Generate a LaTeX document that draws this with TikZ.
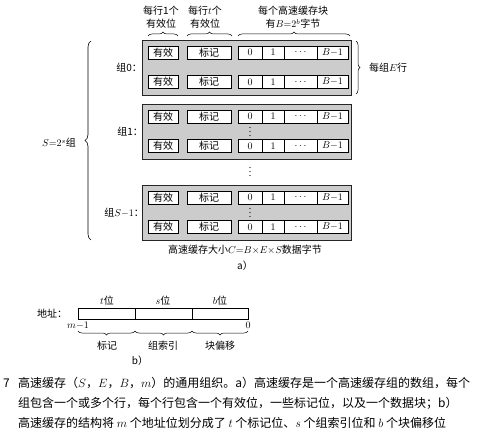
\documentclass[tikz,border=0pt]{standalone}
\usepackage{fontspec}
\setmainfont{Noto Sans CJK SC}
\usetikzlibrary{decorations.pathreplacing}
\newcommand\cacherow[2]{%
  \node[cell, minimum width=30pt] (#1v) at (163,#2) {有效};
  \node[cell, minimum width=44pt] (#1t) at (209,#2) {标记};
  \node[cell, minimum width=24pt] (#1d0) at (250,#2) {$0$};
  \node[cell, minimum width=22pt] (#1d1) at (273,#2) {$1$};
  \node[cell, minimum width=33pt] (#1dd) at (300.5,#2) {$\cdots$};
  \node[cell, minimum width=31pt] (#1db) at (332.5,#2) {$B{-}1$};
}
\newcommand\vdotsat[1]{%
  \foreach \dy in {-4,0,4} {\fill (#1) ++(0,\dy) circle (0.6pt);}%
}
\begin{document}
\begin{tikzpicture}[x=1pt,y=-1pt,
  setbox/.style={draw=black!85, line width=0.8pt, fill=black!20, minimum width=209pt, minimum height=55pt, inner sep=0pt},
  cell/.style={draw, line width=0.6pt, fill=white, minimum height=13pt, inner sep=0pt, font=\fontsize{10}{12}\selectfont},
  lbl/.style={font=\fontsize{10}{13}\selectfont, inner sep=0pt},
  captext/.style={font=\fontsize{12}{14}\selectfont, inner sep=0pt, anchor=west},
  field/.style={draw, line width=0.6pt, minimum height=11pt, inner sep=0pt},
  brc/.style={decorate, decoration={brace, amplitude=4pt}, line width=0.5pt},
  bigbrc/.style={decorate, decoration={brace, amplitude=6pt}, line width=0.6pt},
]
\useasboundingbox (0,0) rectangle (489,443);

% ---- part a: sets
\node[setbox] (set0) at (246.5,67.5) {};
\node[setbox] (set1) at (246.5,131.5) {};
\node[setbox] (setS) at (246.5,212.5) {};
\cacherow{a}{52.5}
\cacherow{b}{82}
\cacherow{c}{116.5}
\cacherow{d}{146}
\cacherow{e}{197.5}
\cacherow{f}{227}
\coordinate (dots1) at (250,131.5);
\coordinate (dotsS) at (250,212.5);
\coordinate (dotsM) at (250,171.5);
\vdotsat{dots1}
\vdotsat{dotsS}
\vdotsat{dotsM}

% set labels
\node[lbl, anchor=east] (l0) at (142,67.5) {组0：};
\node[lbl, anchor=east] (l1) at (143,131.5) {组1：};
\node[lbl, anchor=east] (lS) at (144,213) {组$S{-}1$：};

% left brace
\coordinate (lbB) at (91,240);
\coordinate (lbT) at (91,41);
\draw[bigbrc] (lbB) -- (lbT);
\node[lbl] (Slab) at (59,143) {$S{=}2^s$组};

% top labels and braces
\coordinate (tb1a) at (148,36); \coordinate (tb1b) at (178,36);
\coordinate (tb2a) at (187,36); \coordinate (tb2b) at (232,36);
\coordinate (tb3a) at (238,36); \coordinate (tb3b) at (350,36);
\draw[brc] (tb1a) -- (tb1b);
\draw[brc] (tb2a) -- (tb2b);
\draw[brc] (tb3a) -- (tb3b);
\node[lbl, align=center] (top1) at (161,17.5) {每行1个\\有效位};
\node[lbl, align=center] (top2) at (205,17.5) {每行$t$个\\有效位};
\node[lbl, align=center] (top3) at (293,17.5) {每个高速缓存块\\有$B{=}2^b$字节};

% right brace
\coordinate (rbT) at (356,41);
\coordinate (rbB) at (356,94);
\draw[brc] (rbT) -- (rbB);
\node[lbl, anchor=west] (Elab) at (369,68) {每组$E$行};

\node[lbl] (size) at (245,250) {高速缓存大小$C{=}B{\times}E{\times}S$数据字节};
\node[lbl] (sa) at (245,266) {a）};

% ---- part b: address
\node[lbl] (addr) at (52,313.5) {地址：};
\node[field, minimum width=57pt] (ft) at (106.5,313.5) {};
\node[field, minimum width=57pt] (fs) at (163.5,313.5) {};
\node[field, minimum width=56pt] (fb) at (220,313.5) {};
\node[lbl] (tw) at (107,301) {$t$位};
\node[lbl] (sw) at (163,301) {$s$位};
\node[lbl] (bw) at (220,301) {$b$位};
\node[lbl] (m1) at (78,325.5) {$m{-}1$};
\node[lbl] (z0) at (248,325.5) {$0$};
\coordinate (bb0) at (78,331); \coordinate (bb1) at (135,331);
\coordinate (bb2) at (192,331); \coordinate (bb3) at (248,331);
\draw[brc] (bb1) -- (bb0);
\draw[brc] (bb2) -- (bb1);
\draw[brc] (bb3) -- (bb2);
\node[lbl] (tg) at (107,346) {标记};
\node[lbl] (si) at (163,346) {组索引};
\node[lbl] (bo) at (220,346) {块偏移};
\node[lbl] (sb) at (140,361) {b）};

% ---- caption
\node[captext] (fig) at (3,383) {7};
\node[captext] (c1) at (18,383) {高速缓存（$S$，$E$，$B$，$m$）的通用组织。a）高速缓存是一个高速缓存组的数组，每个};
\node[captext] (c2) at (18,403) {组包含一个或多个行，每个行包含一个有效位，一些标记位，以及一个数据块；b）};
\node[captext] (c3) at (18,423) {高速缓存的结构将 $m$ 个地址位划分成了 $t$ 个标记位、$s$ 个组索引位和 $b$ 个块偏移位};
\end{tikzpicture}
\end{document}
